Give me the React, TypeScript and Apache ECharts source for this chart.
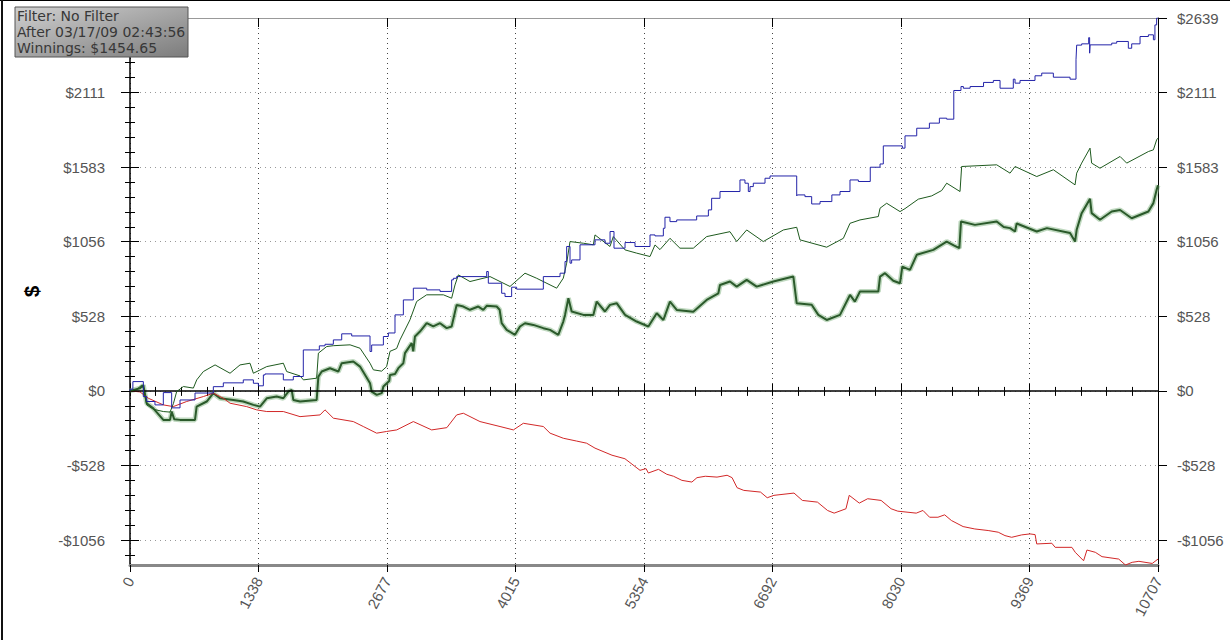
import React, { useEffect, useRef } from "react";
import * as echarts from "echarts";

// ---------- data ----------
const X_MAX = 10707;
const Y_MIN = -1232;
const Y_MAX = 2639;

const xTickLabels = ["0", "1338", "2677", "4015", "5354", "6692", "8030", "9369", "10707"];
const yTickValues = [-1055.6, -527.8, 0, 527.8, 1055.6, 1583.4, 2111.2, 2639];
const yTickLabels = ["-$1056", "-$528", "$0", "$528", "$1056", "$1583", "$2111", "$2639"];

const infoLines = ["Filter: No Filter", "After 03/17/09 02:43:56", "Winnings: $1454.65"];

const blueSeries: [number, number][] = [
  [0, 0], [30, 12], [139, 66], [174, -40], [260, -75], [347, -99], [434, -12], [521, -120],
  [677, -64], [868, -15], [972, 30], [1180, 57], [1285, 78], [1337, 54], [1389, 36], [1406, 113],
  [1597, 120], [1701, 78], [1805, 102], [1972, 290], [2031, 319], [2118, 330], [2205, 361],
  [2309, 404], [2500, 389], [2517, 279], [2639, 325], [2691, 385], [2760, 410], [2847, 538],
  [2951, 644], [3090, 727], [3229, 715], [3350, 704], [3368, 786], [3402, 797], [3715, 809],
  [3732, 845], [3871, 762], [3906, 691], [3975, 668], [4027, 734], [4305, 720], [4479, 809],
  [4531, 833], [4548, 916], [4583, 1022], [4600, 904], [4687, 927], [4843, 1034], [4947, 1069],
  [5000, 1045], [5041, 1128], [5156, 1010], [5260, 1050], [5416, 1022], [5468, 1104],
  [5555, 1097], [5572, 1151], [5624, 1229], [5694, 1198], [5902, 1210], [6024, 1238],
  [6058, 1281], [6145, 1363], [6353, 1411], [6405, 1493], [6440, 1470], [6458, 1411],
  [6492, 1446], [6614, 1470], [6666, 1505], [6944, 1521], [6950, 1380], [7030, 1387],
  [7100, 1375], [7187, 1323], [7310, 1340], [7395, 1387], [7499, 1411], [7586, 1493],
  [7710, 1482], [7812, 1583], [7846, 1606], [8044, 1734], [8072, 1718], [8194, 1805],
  [8326, 1859], [8430, 1895], [8506, 1930], [8580, 1923], [8655, 2126], [8680, 2154],
  [8750, 2142], [8890, 2154], [8992, 2183], [9062, 2197], [9200, 2142], [9218, 2206],
  [9270, 2178], [9426, 2197], [9496, 2230], [9617, 2249], [9791, 2220], [9853, 2206],
  [9860, 2343], [9912, 2447], [9985, 2456], [9995, 2500], [10000, 2390], [10225, 2449],
  [10277, 2461], [10398, 2473], [10433, 2425], [10520, 2456], [10607, 2508], [10659, 2520],
  [10675, 2485], [10693, 2590], [10707, 2639],
];

const thinGreenSeries: [number, number][] = [
  [0, 0], [70, 10], [120, 40], [139, 20], [174, -99], [243, -130], [347, -146], [417, -150],
  [452, -90], [486, -5], [556, 31], [660, 20], [695, 78], [764, 137], [886, 184], [1042, 125],
  [1146, 184], [1250, 196], [1285, 125], [1424, 172], [1597, 196], [1632, 137], [1771, 106],
  [1806, 78], [1944, 90], [1962, 267], [2049, 314], [2118, 320], [2292, 326], [2396, 302],
  [2500, 196], [2535, 149], [2621, 140], [2673, 172], [2708, 280], [2777, 300], [2812, 361],
  [2916, 503], [2986, 633], [3090, 680], [3264, 680], [3350, 656], [3385, 750], [3420, 821],
  [3541, 774], [3750, 809], [3958, 739], [4114, 833], [4236, 797], [4444, 727], [4513, 798],
  [4548, 904], [4583, 1057], [4722, 1045], [4826, 1034], [4843, 1104], [4999, 1022],
  [5034, 1092], [5156, 998], [5277, 975], [5416, 951], [5468, 1033], [5520, 1000],
  [5624, 1080], [5728, 1010], [5867, 1010], [6006, 1092], [6249, 1127], [6319, 1057],
  [6423, 1139], [6596, 1057], [6805, 1139], [6944, 1158], [6978, 1069], [7256, 1017],
  [7430, 1080], [7499, 1186], [7603, 1210], [7794, 1234], [7812, 1293], [7881, 1328],
  [8020, 1269], [8072, 1290], [8211, 1357], [8350, 1380], [8454, 1418], [8506, 1470],
  [8645, 1411], [8662, 1588], [9027, 1600], [9166, 1541], [9218, 1588], [9444, 1517],
  [9617, 1565], [9843, 1458], [9860, 1541], [9912, 1612], [9999, 1718], [10016, 1612],
  [10103, 1576], [10312, 1659], [10381, 1612], [10607, 1694], [10659, 1706], [10693, 1777],
  [10707, 1789],
];

const thickGreenSeries: [number, number][] = [
  [0, 0], [104, 19], [139, 40], [174, -87], [243, -123], [347, -205], [417, -205], [434, -146],
  [460, -200], [521, -205], [677, -205], [694, -111], [799, -75], [868, -16], [937, -52],
  [1076, -64], [1180, -75], [1285, -99], [1354, -111], [1424, -52], [1528, -40], [1597, -52],
  [1649, -5], [1684, 7], [1701, -64], [1771, -75], [1944, -64], [1962, 101], [1997, 137],
  [2083, 160], [2170, 137], [2205, 196], [2326, 208], [2396, 172], [2500, 54], [2517, -5],
  [2570, -28], [2622, -16], [2639, 31], [2700, 70], [2708, 113], [2760, 120], [2795, 161],
  [2847, 196], [2864, 267], [2934, 338], [2950, 280], [2968, 385], [3020, 420], [3090, 479],
  [3159, 456], [3229, 479], [3298, 444], [3350, 456], [3402, 609], [3472, 597], [3541, 574],
  [3628, 597], [3680, 574], [3715, 602], [3819, 597], [3850, 574], [3871, 479], [3923, 432],
  [4010, 397], [4062, 456], [4114, 479], [4201, 467], [4305, 444], [4375, 432], [4461, 397],
  [4513, 491], [4531, 538], [4566, 656], [4600, 562], [4722, 538], [4826, 538], [4861, 632],
  [4947, 562], [4999, 609], [5069, 621], [5156, 538], [5277, 491], [5399, 456], [5486, 550],
  [5555, 502], [5624, 632], [5694, 573], [5867, 561], [6006, 644], [6128, 691], [6145, 750],
  [6249, 774], [6319, 738], [6423, 786], [6527, 738], [6701, 774], [6909, 809], [6944, 620],
  [7100, 610], [7169, 538], [7256, 502], [7395, 538], [7499, 679], [7550, 632], [7603, 703],
  [7794, 703], [7812, 809], [7864, 833], [7950, 780], [8020, 762], [8044, 880], [8124, 857],
  [8194, 963], [8367, 998], [8506, 1057], [8580, 1030], [8638, 1010], [8655, 1199],
  [8800, 1175], [9027, 1199], [9100, 1160], [9166, 1152], [9218, 1128], [9235, 1185],
  [9444, 1128], [9550, 1152], [9791, 1117], [9843, 1057], [9860, 1140], [9912, 1258],
  [9999, 1359], [10016, 1258], [10103, 1211], [10225, 1270], [10312, 1280], [10433, 1222],
  [10607, 1270], [10659, 1329], [10693, 1423], [10707, 1455],
];

const redSeries: [number, number][] = [
  [0, 0], [104, -7], [191, -52], [347, -99], [451, -111], [590, -75], [764, -40], [868, -16],
  [972, -52], [1042, -87], [1215, -111], [1319, -134], [1424, -146], [1597, -146], [1771, -182],
  [1979, -170], [2031, -134], [2118, -193], [2326, -217], [2430, -252], [2569, -299],
  [2673, -287], [2778, -276], [2951, -217], [3142, -276], [3300, -260], [3402, -170],
  [3472, -158], [3645, -217], [3854, -252], [3993, -276], [4097, -229], [4305, -252],
  [4375, -299], [4513, -335], [4652, -355], [4756, -370], [4843, -405], [5020, -455],
  [5155, -480], [5312, -562], [5375, -550], [5399, -581], [5504, -555], [5591, -590],
  [5661, -604], [5748, -633], [5852, -645], [5905, -614], [5992, -604], [6114, -610],
  [6219, -597], [6271, -614], [6323, -685], [6393, -704], [6567, -716], [6637, -756],
  [6707, -739], [6916, -723], [7003, -775], [7160, -787], [7265, -846], [7334, -865],
  [7457, -834], [7491, -739], [7596, -794], [7683, -763], [7823, -775], [7927, -834],
  [7997, -851], [8189, -865], [8259, -846], [8328, -894], [8415, -894], [8485, -877],
  [8555, -917], [8677, -960], [8799, -977], [8938, -988], [9043, -1000], [9113, -1024],
  [9183, -1036], [9287, -1019], [9374, -1012], [9427, -1017], [9444, -1083], [9601, -1078],
  [9636, -1107], [9810, -1107], [9845, -1142], [9932, -1202], [9967, -1126], [10054, -1142],
  [10124, -1173], [10298, -1190], [10368, -1232], [10438, -1213], [10508, -1206],
  [10647, -1221], [10707, -1190],
];

// ---------- derived tick values ----------
const xMajor = xTickLabels.map((_, i) => (i * X_MAX) / (xTickLabels.length - 1));
const xMinor: number[] = [];
for (let k = 0; k <= (xTickLabels.length - 1) * 5; k++) xMinor.push((k * X_MAX) / ((xTickLabels.length - 1) * 5));
const yStep = yTickValues[3] - yTickValues[2];
const yMinor: number[] = [];
for (let k = Math.ceil(Y_MIN / (yStep / 5)); (k * yStep) / 5 <= Y_MAX + 0.01; k++) yMinor.push(Math.min((k * yStep) / 5, Y_MAX));
// the info box hides the top label on the left side
const yLeftLabelValues = yTickValues.slice(0, yTickValues.length - 1);

const FONT = "Liberation Sans, Arial, sans-serif";
const LABEL_COLOR = "#555";

function tickAxis(kind: "x" | "y", position: string, values: number[], inside: boolean, length: number) {
  return {
    type: "value",
    position,
    offset: 0,
    min: kind === "x" ? 0 : Y_MIN,
    max: kind === "x" ? X_MAX : Y_MAX,
    axisLine: { show: false },
    axisTick: { show: true, customValues: values, inside, length, lineStyle: { color: "#000", width: 1 } },
    axisLabel: { show: false },
    splitLine: { show: false },
  };
}

export default function App() {
  const ref = useRef<HTMLDivElement>(null);
  useEffect(() => {
    if (!ref.current) return;
    const chart = echarts.init(ref.current, undefined, { renderer: "svg" });
    const yLabel = (v: number) => {
      const i = yTickValues.findIndex((t) => Math.abs(t - v) < 1);
      return i >= 0 ? yTickLabels[i] : "";
    };
    const xLabel = (v: number) => {
      const i = xMajor.findIndex((t) => Math.abs(t - v) < 1);
      return i >= 0 ? xTickLabels[i] : "";
    };
    chart.setOption({
      animation: false,
      backgroundColor: "#fff",
      grid: { left: 130, right: 72, top: 18, bottom: 75, containLabel: false },
      xAxis: [
        {
          type: "value",
          position: "bottom",
          offset: 0,
          min: 0,
          max: X_MAX,
          axisLine: { show: true, onZero: false, lineStyle: { color: "#888", width: 3 } },
          axisTick: { show: true, customValues: xMajor, inside: false, length: 7, lineStyle: { color: "#000" } },
          axisLabel: {
            show: true,
            customValues: xMajor,
            formatter: xLabel,
            rotate: 62,
            margin: 13,
            color: LABEL_COLOR,
            fontSize: 15,
            fontFamily: FONT,
            hideOverlap: false,
          },
          splitLine: { show: true, lineStyle: { color: "#444", width: 1, type: [1, 4] } },
        },
        tickAxis("x", "bottom", xMajor, true, 7),
        tickAxis("x", "bottom", xMinor, false, 4),
        tickAxis("x", "bottom", xMinor, true, 4),
        {
          ...tickAxis("x", "top", xMajor, true, 9),
          axisLine: { show: true, onZero: false, lineStyle: { color: "#999", width: 1 } },
        },
        tickAxis("x", "top", xMinor, true, 5),
      ],
      yAxis: [
        {
          type: "value",
          position: "left",
          offset: 0,
          min: Y_MIN,
          max: Y_MAX,
          name: "$",
          nameLocation: "middle",
          nameGap: 88,
          nameRotate: 90,
          nameTextStyle: { fontSize: 21, fontWeight: "bold", color: "#000", fontFamily: FONT },
          axisLine: { show: true, onZero: false, lineStyle: { color: "#000", width: 1.5 } },
          axisTick: { show: true, customValues: yTickValues, inside: false, length: 9, lineStyle: { color: "#000" } },
          axisLabel: {
            show: true,
            customValues: yLeftLabelValues,
            formatter: yLabel,
            margin: 25,
            color: LABEL_COLOR,
            fontSize: 15,
            fontFamily: FONT,
          },
          splitLine: { show: true, lineStyle: { color: "#999", width: 1, type: [1, 4] } },
        },
        tickAxis("y", "left", yTickValues, true, 9),
        tickAxis("y", "left", yMinor, false, 5),
        tickAxis("y", "left", yMinor, true, 5),
        {
          type: "value",
          position: "right",
          offset: 0,
          min: Y_MIN,
          max: Y_MAX,
          axisLine: { show: true, onZero: false, lineStyle: { color: "#000", width: 1 } },
          axisTick: { show: true, customValues: yTickValues, inside: false, length: 9, lineStyle: { color: "#000" } },
          axisLabel: {
            show: true,
            customValues: yTickValues,
            formatter: yLabel,
            margin: 19,
            color: LABEL_COLOR,
            fontSize: 15,
            fontFamily: FONT,
          },
          splitLine: { show: false },
        },
        tickAxis("y", "right", yTickValues, true, 4),
        tickAxis("y", "right", yMinor, false, 5),
        tickAxis("y", "right", yMinor, true, 3),
      ],
      series: [
        {
          type: "line",
          data: thickGreenSeries,
          showSymbol: false,
          silent: true,
          lineStyle: { color: "rgba(130,180,130,0.5)", width: 5 },
          z: 2,
        },
        {
          type: "line",
          data: thickGreenSeries,
          showSymbol: false,
          silent: true,
          lineStyle: { color: "#2b5a2b", width: 2 },
          z: 3,
        },
        {
          type: "line",
          data: redSeries,
          showSymbol: false,
          silent: true,
          lineStyle: { color: "#d22828", width: 1 },
          z: 4,
          markLine: {
            silent: true,
            symbol: "none",
            label: { show: false },
            lineStyle: { color: "#000", width: 1.5, type: "solid" },
            data: [{ yAxis: 0 }],
          },
        },
        {
          type: "line",
          data: thinGreenSeries,
          showSymbol: false,
          silent: true,
          lineStyle: { color: "#1e5a1e", width: 1 },
          z: 5,
        },
        {
          type: "line",
          data: blueSeries,
          step: "start",
          showSymbol: false,
          silent: true,
          lineStyle: { color: "#2323a8", width: 1 },
          z: 6,
        },
      ],
      graphic: [
        { type: "line", shape: { x1: 0, y1: 0.5, x2: 1230, y2: 0.5 }, style: { stroke: "#000", lineWidth: 1 }, silent: true },
        { type: "line", shape: { x1: 2, y1: 0, x2: 2, y2: 640 }, style: { stroke: "#111", lineWidth: 2 }, silent: true },
        {
          type: "rect",
          zlevel: 1,
          z: 100,
          silent: true,
          shape: { x: 15, y: 7, width: 173, height: 50 },
          style: {
            fill: new echarts.graphic.LinearGradient(0, 0, 1, 1, [
              { offset: 0, color: "#d0d0d0" },
              { offset: 1, color: "#7c7c7c" },
            ]),
            stroke: "#555",
            lineWidth: 1,
          },
        },
        ...infoLines.map((t, i) => ({
          type: "text",
          zlevel: 1,
          z: 101,
          silent: true,
          x: 17,
          y: 16 + i * 16,
          style: {
            text: t,
            fill: "#383838",
            font: "14px 'DejaVu Sans', Verdana, sans-serif",
            verticalAlign: "middle",
          },
        })),
      ],
    });
    return () => chart.dispose();
  }, []);
  return (
    <div
      ref={ref}
      style={{ position: "fixed", left: 0, top: 0, width: 1230, height: 640, background: "#fff" }}
    />
  );
}
